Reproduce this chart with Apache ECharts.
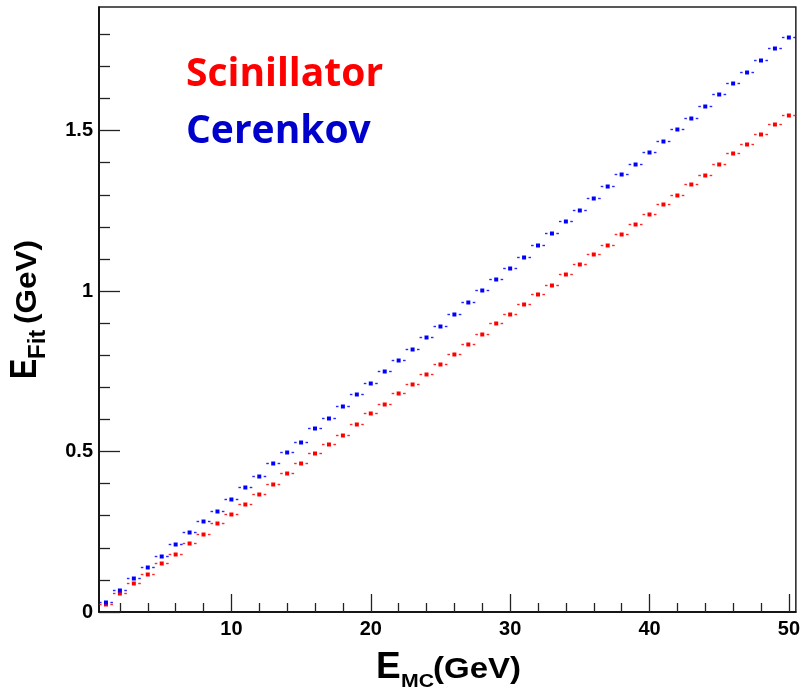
<!DOCTYPE html>
<html>
<head>
<meta charset="utf-8">
<script src="https://cdn.jsdelivr.net/npm/echarts@6/dist/echarts.min.js"></script>
<style>
  html, body { margin: 0; padding: 0; background: #fff; }
  #chart { width: 803px; height: 691px; }
</style>
</head>
<body>
<div id="chart"></div>
<script>
// Beam energy (GeV), one bin per integer value
const energyMC = [1,2,3,4,5,6,7,8,9,10,11,12,13,14,15,16,17,18,19,20,
  21,22,23,24,25,26,27,28,29,30,31,32,33,34,35,36,37,38,39,40,
  41,42,43,44,45,46,47,48,49,50];

// Fitted energy, scintillation channel (GeV)
const fitScint = [0.024,0.058,0.090,0.119,0.152,0.181,0.215,0.244,0.277,0.306,
  0.338,0.367,0.400,0.434,0.463,0.495,0.524,0.553,0.587,0.620,
  0.649,0.681,0.711,0.743,0.773,0.805,0.834,0.867,0.901,0.930,
  0.960,0.991,1.020,1.053,1.085,1.115,1.144,1.177,1.210,1.239,
  1.271,1.300,1.333,1.362,1.396,1.429,1.458,1.490,1.519,1.548];

// Fitted energy, Cerenkov channel (GeV)
const fitCeren = [0.032,0.068,0.105,0.141,0.174,0.211,0.248,0.283,0.316,0.353,
  0.389,0.425,0.463,0.499,0.531,0.572,0.605,0.641,0.678,0.714,
  0.750,0.786,0.820,0.856,0.892,0.930,0.966,1.002,1.039,1.071,
  1.107,1.144,1.181,1.217,1.253,1.290,1.326,1.364,1.396,1.432,
  1.468,1.505,1.538,1.578,1.615,1.648,1.684,1.720,1.757,1.793];

const binHalfWidth = 0.5;

const xMajor = [10, 20, 30, 40, 50];
const xMinor = [2,4,6,8,12,14,16,18,22,24,26,28,32,34,36,38,42,44,46,48];
const yMajor = [0, 0.5, 1, 1.5];
const yMinor = [0.1,0.2,0.3,0.4,0.6,0.7,0.8,0.9,1.1,1.2,1.3,1.4,1.6,1.7,1.8];

const FONT = '"Liberation Sans", Arial, sans-serif';

function pointsOf(ys) {
  return energyMC.map((e, i) => [e, ys[i]]);
}

// ROOT-like marker: small square with horizontal bin-width bars and a gap
function makeRenderer(color) {
  return function (params, api) {
    const e = api.value(0), v = api.value(1);
    const c = api.coord([e, v]);
    const l = api.coord([e - binHalfWidth, v]);
    const r = api.coord([e + binHalfWidth, v]);
    const half = 2, gap = 2.4;
    const y = Math.round(c[1]) + 0.5;
    return {
      type: 'group',
      children: [
        { type: 'line', shape: { x1: l[0], y1: y, x2: c[0] - half - gap, y2: y },
          style: { stroke: color, lineWidth: 1.4, opacity: 0.85 } },
        { type: 'line', shape: { x1: c[0] + half + gap, y1: y, x2: r[0], y2: y },
          style: { stroke: color, lineWidth: 1.4, opacity: 0.85 } },
        { type: 'rect', shape: { x: c[0] - half, y: y - half, width: half * 2, height: half * 2 },
          style: { fill: color } }
      ]
    };
  };
}

const axisLineStyle = { color: '#000', width: 1.5 };

const chart = echarts.init(document.getElementById('chart'), null, { renderer: 'canvas' });

chart.setOption({
  animation: false,
  backgroundColor: '#fff',
  grid: {
    left: 99, right: 3, top: 7, bottom: 79,
    show: true, borderColor: '#222', borderWidth: 1.5, backgroundColor: 'transparent'
  },
  xAxis: [
    {
      type: 'value', min: 0.5, max: 50.5, position: 'bottom',
      axisLine: { show: true, onZero: false, lineStyle: axisLineStyle },
      axisTick: { show: true, inside: true, length: 18, customValues: xMajor, lineStyle: { color: '#222', width: 1.3 } },
      axisLabel: { show: true, customValues: xMajor, color: '#000', fontSize: 20, fontWeight: 'bold', fontFamily: FONT, margin: 7 },
      splitLine: { show: false }
    },
    {
      type: 'value', min: 0.5, max: 50.5, position: 'bottom',
      axisLine: { show: false },
      axisTick: { show: true, inside: true, length: 9, customValues: xMinor, lineStyle: { color: '#222', width: 1.3 } },
      axisLabel: { show: false },
      splitLine: { show: false }
    }
  ],
  yAxis: [
    {
      type: 'value', min: 0, max: 1.885, position: 'left',
      axisLine: { show: true, onZero: false, lineStyle: axisLineStyle },
      axisTick: { show: true, inside: true, length: 21, customValues: yMajor, lineStyle: { color: '#222', width: 1.3 } },
      axisLabel: { show: true, customValues: yMajor, color: '#000', fontSize: 20, fontWeight: 'bold', fontFamily: FONT, margin: 6,
        formatter: v => String(v) },
      splitLine: { show: false }
    },
    {
      type: 'value', min: 0, max: 1.885, position: 'left',
      axisLine: { show: false },
      axisTick: { show: true, inside: true, length: 11, customValues: yMinor, lineStyle: { color: '#222', width: 1.3 } },
      axisLabel: { show: false },
      splitLine: { show: false }
    }
  ],
  series: [
    {
      name: 'Scinillator', type: 'custom', xAxisIndex: 0, yAxisIndex: 0,
      renderItem: makeRenderer('#ff0000'), data: pointsOf(fitScint), clip: false
    },
    {
      name: 'Cerenkov', type: 'custom', xAxisIndex: 0, yAxisIndex: 0,
      renderItem: makeRenderer('#0000ff'), data: pointsOf(fitCeren), clip: false
    }
  ],
  graphic: [
    // series labels
    { type: 'text', left: 186, top: 55,
      style: { text: 'Scinillator', fill: '#ff0000', font: 'bold 39px "Open Sans", sans-serif' } },
    { type: 'text', left: 186, top: 112,
      style: { text: 'Cerenkov', fill: '#0000cc', font: 'bold 39px "Open Sans", sans-serif' } },
    // x-axis title: E_MC(GeV)
    { type: 'text', x: 376, y: 668, style: { text: 'E', fill: '#000', font: 'bold 37px ' + FONT, verticalAlign: 'middle' } },
    { type: 'text', x: 401, y: 682, scaleX: 1.12,
      style: { text: 'MC', fill: '#000', font: 'bold 19px ' + FONT, verticalAlign: 'middle' } },
    { type: 'text', x: 433, y: 670, scaleX: 1.1,
      style: { text: '(GeV)', fill: '#000', font: 'bold 30px ' + FONT, verticalAlign: 'middle' } },
    // y-axis title: E_Fit(GeV), rotated to read bottom-to-top
    { type: 'group', x: 26, y: 379, rotation: Math.PI / 2,
      children: [
        { type: 'text', x: 0, y: 0, scaleX: 0.82,
          style: { text: 'E', fill: '#000', font: 'bold 37px ' + FONT, verticalAlign: 'middle' } },
        { type: 'text', x: 20, y: 12,
          style: { text: 'Fit', fill: '#000', font: 'bold 24px ' + FONT, verticalAlign: 'middle' } },
        { type: 'text', x: 55, y: 2, scaleX: 1.05,
          style: { text: '(GeV)', fill: '#000', font: 'bold 30px ' + FONT, verticalAlign: 'middle' } }
      ]
    }
  ]
});
</script>
</body>
</html>
